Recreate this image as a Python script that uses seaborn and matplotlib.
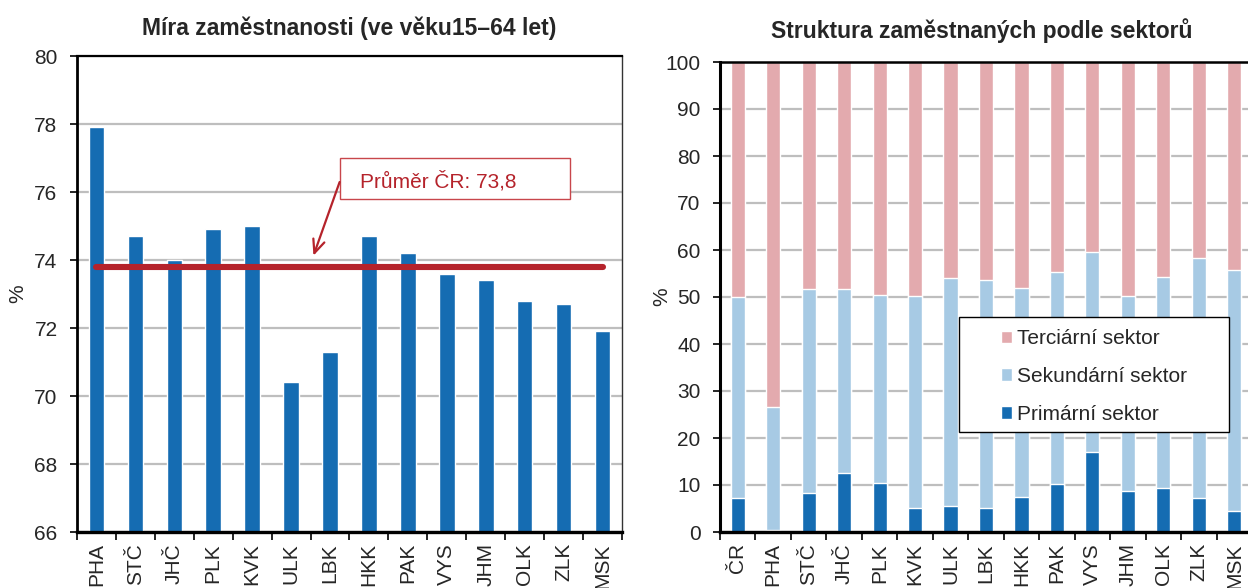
import numpy as np
import matplotlib
matplotlib.use('Agg')
import matplotlib.pyplot as plt
import seaborn as sns
from matplotlib.patches import Rectangle

# levý graf: míra zaměstnanosti 15-64 let
regions = ["PHA", "STČ", "JHČ", "PLK", "KVK", "ULK", "LBK", "HKK", "PAK",
           "VYS", "JHM", "OLK", "ZLK", "MSK"]
employment_rate = [77.9, 74.7, 74.0, 74.9, 75.0, 70.4, 71.3, 74.7, 74.2,
                   73.6, 73.4, 72.8, 72.7, 71.9]
cr_average = 73.8

# pravý graf: struktura podle sektorů (%)
sector_regions = ["ČR", "PHA", "STČ", "JHČ", "PLK", "KVK", "ULK", "LBK", "HKK",
                  "PAK", "VYS", "JHM", "OLK", "ZLK", "MSK"]
primary = [7.3, 0.5, 8.4, 12.5, 10.4, 5.1, 5.5, 5.2, 7.5, 10.2, 17.1, 8.7, 9.3, 7.2, 4.4]
secondary = [42.8, 26.0, 43.2, 39.3, 40.1, 45.2, 48.5, 48.5, 44.5, 45.2, 42.5, 41.6, 45.0, 51.0, 51.4]
tertiary = [round(100 - p - s, 1) for p, s in zip(primary, secondary)]

BLUE = "#156CB2"
LIGHT = "#A7CAE4"
PINK = "#E3AAAE"
RED = "#B5232B"
GRID = "#BEBEBE"
FS = 15

sns.set_theme(style="white")
plt.rcParams['font.family'] = ['Liberation Sans', 'DejaVu Sans']

fig = plt.figure(figsize=(12.48, 5.88), dpi=100)
ax1 = fig.add_axes([77 / 1248, 56 / 588, 545 / 1248, 476 / 588])
ax2 = fig.add_axes([720 / 1248, 56 / 588, 532 / 1248, 470 / 588])


def style_axis(ax, n):
    ax.set_axisbelow(True)
    ax.yaxis.grid(True, color=GRID, lw=1.6)
    ax.xaxis.grid(False)
    ax.set_xlim(-0.5, n - 0.5)
    ax.set_xticks(np.arange(n))
    ax.set_xticks(np.arange(n + 1) - 0.5, minor=True)
    ax.tick_params(axis="x", which="major", length=0, labelsize=FS, rotation=90, pad=8)
    ax.tick_params(axis="x", which="minor", length=6, width=1.2, color="black", direction="out", bottom=True)
    ax.tick_params(axis="y", length=5, width=1.2, color="black", direction="out", left=True,
                   labelsize=FS, pad=9)
    for lab in ax.get_xticklabels():
        lab.set_va("top")
    ax.set_xlabel("")


# --- levý graf ---
sns.barplot(x=regions, y=employment_rate, color=BLUE, width=0.4, saturation=1, ax=ax1)
ax1.set_ylim(66, 80)
ax1.set_yticks(range(66, 81, 2))
style_axis(ax1, len(regions))
sns.lineplot(x=[0, len(regions) - 1], y=[cr_average, cr_average], color=RED, lw=4.4,
             solid_capstyle="round", ax=ax1)
for side, w in [("left", 2.0), ("bottom", 2.4), ("top", 1.6), ("right", 1.0)]:
    ax1.spines[side].set_visible(True)
    ax1.spines[side].set_color("black" if side != "right" else "#333333")
    ax1.spines[side].set_linewidth(w)
ax1.set_ylabel("%", fontsize=FS)
ax1.yaxis.set_label_coords(-0.092, 0.5)

ax1.add_patch(Rectangle((6.256, 75.79), 12.16 - 6.256, 76.99 - 75.79, facecolor="white",
                        edgecolor="#C8464B", lw=1.0, zorder=6))
ax1.text(6.77, 76.32, "Průměr ČR: 73,8", color=RED, fontsize=FS, va="center", ha="left", zorder=7)
ax1.annotate("", xy=(5.55, 74.05), xytext=(6.27, 76.37),
             arrowprops=dict(arrowstyle="->,head_length=0.8,head_width=0.35", color=RED, lw=1.6),
             zorder=7)

fig.text(349.5 / 1248, 1 - 28 / 588, "Míra zaměstnanosti (ve věku15–64 let)",
         fontsize=16.5, fontweight="bold", ha="center", va="center")

# --- pravý graf (skládané sloupce) ---
cum_sec = [p + s for p, s in zip(primary, secondary)]
cum_all = [p + s + t for p, s, t in zip(primary, secondary, tertiary)]
sns.barplot(x=sector_regions, y=cum_all, color=PINK, width=0.4, saturation=1,
            label="Terciární sektor", ax=ax2)
sns.barplot(x=sector_regions, y=cum_sec, color=LIGHT, width=0.4, saturation=1,
            label="Sekundární sektor", ax=ax2)
sns.barplot(x=sector_regions, y=primary, color=BLUE, width=0.4, saturation=1,
            label="Primární sektor", ax=ax2)
ax2.set_ylim(0, 100)
ax2.set_yticks(range(0, 101, 10))
style_axis(ax2, len(sector_regions))
for side, w in [("left", 2.2), ("bottom", 2.4), ("top", 1.8)]:
    ax2.spines[side].set_visible(True)
    ax2.spines[side].set_color("black")
    ax2.spines[side].set_linewidth(w)
ax2.spines["right"].set_visible(False)
ax2.set_ylabel("%", fontsize=FS)
ax2.yaxis.set_label_coords(-0.092, 0.5)

ax2.add_patch(Rectangle((0.450, 0.213), 0.507, 0.244, transform=ax2.transAxes,
                        facecolor="white", edgecolor="black", lw=1.0, zorder=4.5))
handles, labels = ax2.get_legend_handles_labels()
ax2.legend(handles, labels, loc="upper left", bbox_to_anchor=(0.5276, 0.4315),
           frameon=False, fontsize=FS, handlelength=0.55, handleheight=0.55,
           handletextpad=0.25, labelspacing=0.9, borderpad=0, borderaxespad=0)

fig.text(982 / 1248, 1 - 31 / 588, "Struktura zaměstnaných podle sektorů",
         fontsize=16.5, fontweight="bold", ha="center", va="center")

fig.savefig("out.png", dpi=100)
plt.close(fig)
